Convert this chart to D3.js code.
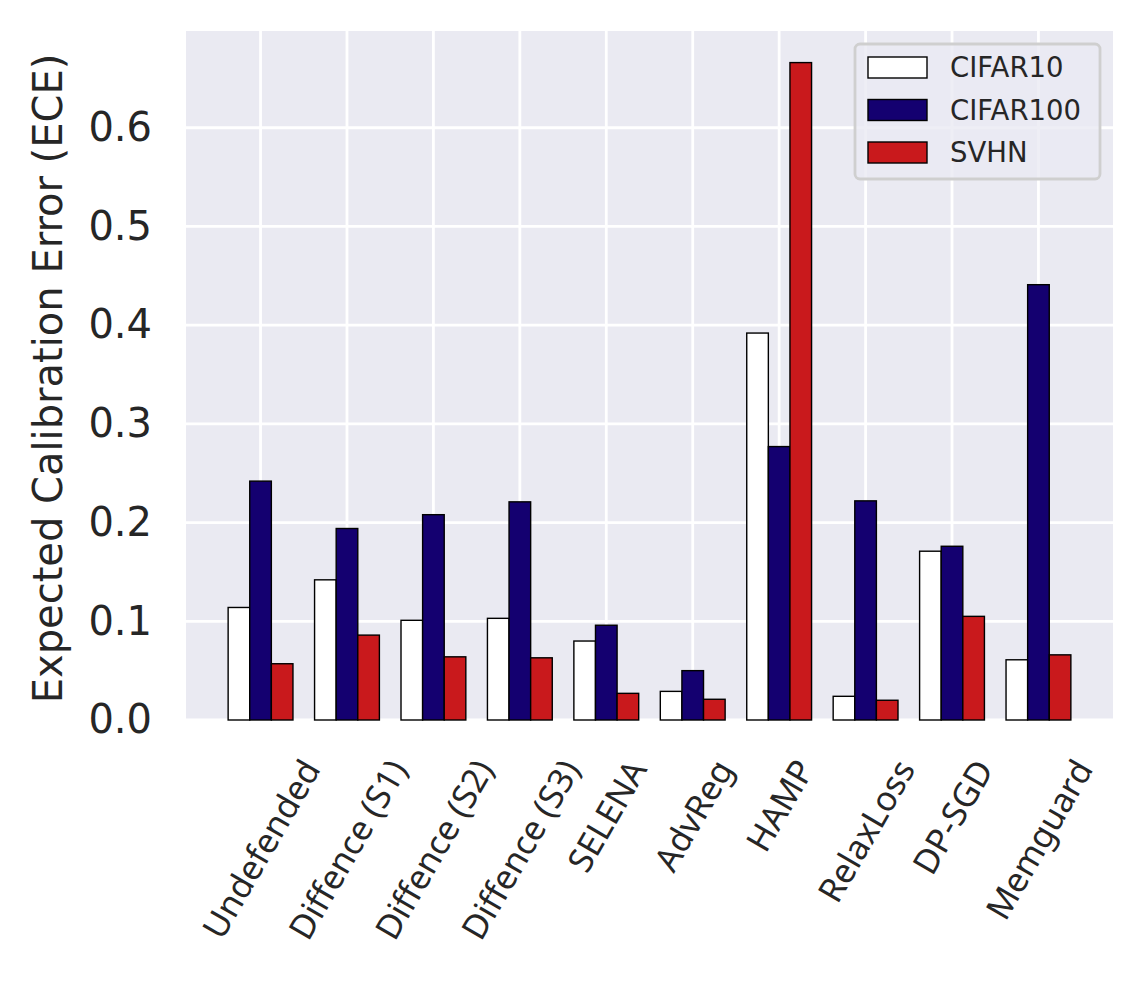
<!DOCTYPE html>
<html>
<head>
<meta charset="utf-8">
<script src="https://cdn.jsdelivr.net/npm/d3@7"></script>
<style>
  body { margin: 0; background: #fff; }
</style>
</head>
<body>
<svg id="svg" width="1144" height="987"></svg>
<script>
var width = 1144;
var height = 987;

// data
var categories = ['Undefended', 'Diffence (S1)', 'Diffence (S2)', 'Diffence (S3)', 'SELENA',
                  'AdvReg', 'HAMP', 'RelaxLoss', 'DP-SGD', 'Memguard'];
var seriesNames = ['CIFAR10', 'CIFAR100', 'SVHN'];
var cifar10  = [0.114, 0.142, 0.101, 0.103, 0.080, 0.029, 0.392, 0.024, 0.171, 0.061];
var cifar100 = [0.242, 0.194, 0.208, 0.221, 0.096, 0.050, 0.277, 0.222, 0.176, 0.441];
var svhn     = [0.057, 0.086, 0.064, 0.063, 0.027, 0.021, 0.666, 0.020, 0.105, 0.066];
var yTicks = [0.0, 0.1, 0.2, 0.3, 0.4, 0.5, 0.6];

var seriesValues = [cifar10, cifar100, svhn];
var colors = ['#ffffff', '#140070', '#c9191c'];

var plotLeft = 186, plotRight = 1113, plotTop = 31, plotBottom = 720;

var svg = d3.select('svg');

var x = d3.scaleLinear()
    .domain([-0.8625, categories.length - 1 + 0.8625])
    .range([plotLeft, plotRight]);

var y = d3.scaleLinear()
    .domain([0, 0.698])
    .range([plotBottom, plotTop]);

var barW = 0.25;

// background
svg.append('rect')
    .attr('x', plotLeft).attr('y', plotTop)
    .attr('width', plotRight - plotLeft).attr('height', plotBottom - plotTop)
    .attr('fill', '#eaeaf2');

// grid
svg.append('g')
    .selectAll('line')
    .data(yTicks)
    .enter()
    .append('line')
    .attr('x1', plotLeft).attr('x2', plotRight)
    .attr('y1', function(d){return y(d)}).attr('y2', function(d){return y(d)})
    .attr('stroke', '#fff').attr('stroke-width', 2.8);

svg.append('g')
    .selectAll('line')
    .data(categories)
    .enter()
    .append('line')
    .attr('x1', function(d,i){return x(i)}).attr('x2', function(d,i){return x(i)})
    .attr('y1', plotTop).attr('y2', plotBottom)
    .attr('stroke', '#fff').attr('stroke-width', 2.8);

// bars
seriesValues.forEach(function(vals, s){
    svg.append('g')
        .selectAll('rect')
        .data(vals)
        .enter()
        .append('rect')
        .attr('x', function(d,i){return x(i + (s - 1) * barW - barW/2)})
        .attr('width', x(barW) - x(0))
        .attr('y', function(d){return y(d)})
        .attr('height', function(d){return y(0) - y(d)})
        .attr('fill', colors[s])
        .attr('stroke', '#000')
        .attr('stroke-width', 1.4);
});

// y axis
var yAxis = svg.append('g')
    .attr('transform', 'translate(' + plotLeft + ',0)')
    .call(d3.axisLeft(y).tickValues(yTicks).tickFormat(d3.format('.1f')).tickSize(0).tickPadding(34));
yAxis.select('.domain').remove();
yAxis.selectAll('text')
    .attr('font-family', 'DejaVu Sans')
    .attr('font-size', 40)
    .attr('fill', '#262626');

svg.append('text')
    .text('Expected Calibration Error (ECE)')
    .attr('transform', 'translate(62,' + ((plotTop + plotBottom) / 2 + 3) + ') rotate(-90)')
    .attr('text-anchor', 'middle')
    .attr('font-family', 'DejaVu Sans')
    .attr('font-size', 40)
    .attr('fill', '#262626');

// x tick labels, rotated 60 degrees, bbox centred under the tick
categories.forEach(function(c, i){
    var g = svg.append('g');
    g.append('text')
        .text(c)
        .attr('text-anchor', 'middle')
        .attr('dy', '0.35em')
        .attr('transform', 'rotate(-60)')
        .attr('font-family', 'Noto Sans')
        .attr('font-size', 34)
        .attr('fill', '#262626');
    var bb = g.node().getBBox();
    g.attr('transform', 'translate(' + (x(i) - (bb.x + bb.width/2)) + ',' + (751 - bb.y) + ')');
});

// legend
var legend = svg.append('g');
legend.append('rect')
    .attr('x', 855).attr('y', 44)
    .attr('width', 245).attr('height', 135)
    .attr('rx', 5)
    .attr('fill', '#eaeaf2').attr('fill-opacity', 0.8)
    .attr('stroke', '#cfcfcf').attr('stroke-width', 2.8);

legend.selectAll('rect.key')
    .data(seriesNames)
    .enter()
    .append('rect')
    .attr('class', 'key')
    .attr('x', 868).attr('y', function(d,i){return 57 + i * 42.5})
    .attr('width', 59).attr('height', 21)
    .attr('fill', function(d,i){return colors[i]})
    .attr('stroke', '#000').attr('stroke-width', 1.4);

legend.selectAll('text')
    .data(seriesNames)
    .enter()
    .append('text')
    .text(function(d){return d})
    .attr('x', 950).attr('y', function(d,i){return 77 + i * 42.5})
    .attr('font-family', 'DejaVu Sans')
    .attr('font-size', 27.5)
    .attr('fill', '#262626');
</script>
</body>
</html>
